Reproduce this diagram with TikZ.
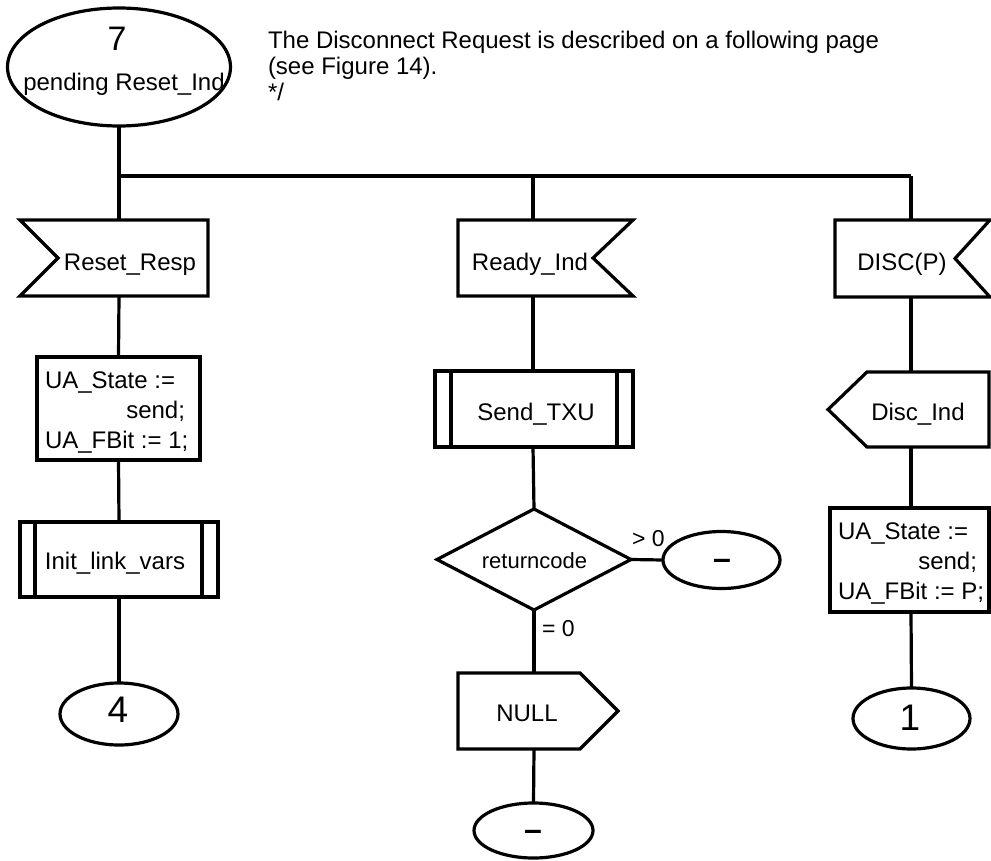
\documentclass[tikz,border=0pt]{standalone}
\usepackage{fontspec}
\setmainfont{Liberation Sans}
\usetikzlibrary{calc,shapes.geometric}
\begin{document}
\begin{tikzpicture}[x=1pt,y=-1pt,
  ln/.style={line width=3.2pt},
  busline/.style={line width=3.8pt},
  every node/.style={inner sep=0pt, outer sep=0pt},
  txt/.style={font=\fontsize{24}{28}\selectfont, anchor=base},
  small/.style={font=\fontsize{22}{26}\selectfont, anchor=base},
  digit/.style={font=\fontsize{37}{40}\selectfont, anchor=base},
  dashtxt/.style={font=\bfseries\fontsize{32}{32}\selectfont},
  frame/.style 2 args={rectangle, draw=none, minimum width=#1, minimum height=#2},
  boxed/.style 2 args={rectangle, draw, line width=3.2pt, minimum width=#1, minimum height=#2},
  oval/.style 2 args={ellipse, draw, line width=3.2pt, minimum width=#1, minimum height=#2},
]
\useasboundingbox (0,0) rectangle (991,861);

% start state
\node[oval={223}{118}] (s7) at (119,67) {};
\node[digit, font=\fontsize{34}{36}\selectfont] (t7) at (117,51) {7};
\node[txt] (tpend) at (124,91) {pending Reset\_Ind};

% comment
\node[txt, anchor=base west] (cm1) at (268,49) {The Disconnect Request is described on a following page};
\node[txt, anchor=base west] (cm2) at (268,75) {(see Figure 14).};
\node[txt, anchor=base west] (cm3) at (268,101) {*/};

% bus
\coordinate (busL) at (119,176);
\coordinate (busM) at (533,176);
\coordinate (busR) at (911,176);
\draw[ln] (s7) -- (busL);
\draw[busline] (busL) -- (busR);

% ===== left column =====
\node[frame={188}{76}] (in1) at (114,258) {};
\draw[ln] (in1.north west) -- (in1.north east) -- (in1.south east) -- (in1.south west)
  -- ([xshift=38pt]in1.west) -- cycle;
\node[txt] (tin1) at (130,271) {Reset\_Resp};

\node[boxed={163}{103}] (a1) at (118.5,408.5) {};
\node[txt, anchor=base west] (a1l1) at (45,388) {UA\_State :=};
\node[txt, anchor=base east] (a1l2) at (185,418) {send;};
\node[txt, anchor=base west] (a1l3) at (45,448) {UA\_FBit := 1;};

\node[boxed={198}{75}] (p1) at (119,559.5) {};
\draw[ln] ([xshift=15pt]p1.north west) -- ([xshift=15pt]p1.south west);
\draw[ln] ([xshift=-16pt]p1.north east) -- ([xshift=-16pt]p1.south east);
\node[txt] (tp1) at (115,569) {Init\_link\_vars};

\node[oval={118}{62}] (c4) at (119,714) {};
\node[digit] (t4) at (118,722) {4};

\draw[ln] (busL) -- (busL |- in1.north);
\draw[ln] (busL |- in1.south) -- (a1.north);
\draw[ln] (a1.south) -- (p1.north);
\draw[ln] (p1.south) -- (c4.north);

% ===== middle column =====
\node[frame={175}{76}] (in2) at (545.5,258) {};
\draw[ln] (in2.north west) -- (in2.north east) -- ([xshift=-40pt]in2.east)
  -- (in2.south east) -- (in2.south west) -- cycle;
\node[txt] (tin2) at (530,271) {Ready\_Ind};

\node[boxed={198}{76}] (p2) at (534,409) {};
\draw[ln] ([xshift=16pt]p2.north west) -- ([xshift=16pt]p2.south west);
\draw[ln] ([xshift=-16pt]p2.north east) -- ([xshift=-16pt]p2.south east);
\node[txt] (tp2) at (536,420) {Send\_TXU};

\node[frame={194}{101}] (dec) at (534,559.5) {};
\draw[ln] (dec.north) -- (dec.east) -- (dec.south) -- (dec.west) -- cycle;
\node[small] (tdec) at (534.5,568) {returncode};

\node[oval={117}{57}] (e2) at (721.5,560) {};
\node[dashtxt] (te2) at (722,564) {–};
\node[txt, anchor=base west, font=\fontsize{23}{26}\selectfont] (gt0) at (632,546) {> 0};

\node[frame={160}{76}] (o2) at (538,711) {};
\draw[ln] (o2.north west) -- ([xshift=-38pt]o2.north east) -- (o2.east)
  -- ([xshift=-38pt]o2.south east) -- (o2.south west) -- cycle;
\node[txt] (to2) at (527,721) {NULL};
\node[txt, anchor=base west, font=\fontsize{23}{26}\selectfont] (eq0) at (542,636) {= 0};

\node[oval={119}{55}] (e3) at (533.5,830.5) {};
\node[dashtxt] (te3) at (533,835) {–};

\draw[ln] (busM) -- (busM |- in2.north);
\draw[ln] (busM |- in2.south) -- (busM |- p2.north);
\draw[ln] (busM |- p2.south) -- (dec.north);
\draw[ln] (dec.east) -- (e2.west);
\draw[ln] (dec.south) -- (dec.south |- o2.north);
\draw[ln] (dec.south |- o2.south) -- (e3.north);

% ===== right column =====
\node[frame={155}{77}] (in3) at (912.5,258.5) {};
\draw[ln] (in3.north west) -- (in3.north east) -- ([xshift=-35pt]in3.east)
  -- (in3.south east) -- (in3.south west) -- cycle;
\node[txt] (tin3) at (902,271) {DISC(P)};

\node[frame={161}{75}] (o3) at (908.5,409.5) {};
\draw[ln] ([xshift=39pt]o3.north west) -- (o3.north east) -- (o3.south east)
  -- ([xshift=39pt]o3.south west) -- (o3.west) -- cycle;
\node[txt] (to3) at (918,420) {Disc\_Ind};

\node[boxed={159}{104}] (a3) at (909.5,560) {};
\node[txt, anchor=base west] (a3l1) at (838,539) {UA\_State :=};
\node[txt, anchor=base east] (a3l2) at (977,569) {send;};
\node[txt, anchor=base west] (a3l3) at (838,599) {UA\_FBit := P;};

\node[oval={117}{61}] (c1) at (911.5,718.5) {};
\node[digit] (t1) at (910,730) {1};

\draw[ln] (busR) -- (busR |- in3.north);
\draw[ln] (busR |- in3.south) -- (busR |- o3.north);
\draw[ln] (busR |- o3.south) -- (busR |- a3.north);
\draw[ln] (busR |- a3.south) -- (c1.north);
\end{tikzpicture}
\end{document}
